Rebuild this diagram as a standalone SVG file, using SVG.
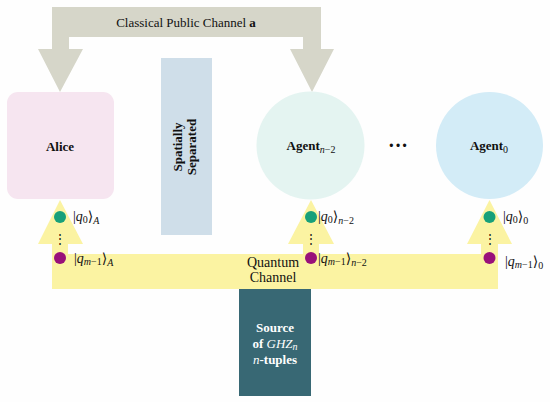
<svg xmlns="http://www.w3.org/2000/svg" width="550" height="402" viewBox="0 0 550 402">
<style>
text{font-family:"Liberation Serif","DejaVu Serif",serif;fill:#111;}
.lbl{font-size:13px;}
.b{font-weight:bold;}
.i{font-style:italic;}
.n{font-weight:normal;}
.w{fill:#fff;}
.ket{font-size:14px;}
.sub{font-size:10px;}
.g{fill:#17a07a;}
.p{fill:#99107a;}
.y{fill:#fbf3a2;}
</style>
<rect width="550" height="402" fill="#fefefe"/>
<g id="connectors">
  <path id="classical" d="M60,92 L38,49 L52,49 L52,7 L321,7 L321,49 L334,49 L312,92 L290,49 L303,49 L303,37 L69,37 L69,49 L83,49 Z" fill="#d6d6c9"/>
  <text class="lbl" x="186" y="27" text-anchor="middle">Classical Public Channel <tspan class="b">a</tspan></text>
  <g id="quantum" class="y">
    <rect x="52" y="254" width="446" height="35"/>
    <path d="M52,254 L52,244 L38,244 L60,200 L83,244 L68,244 L68,254 Z"/>
    <path d="M303,254 L303,244 L288,244 L311,200 L334,244 L319,244 L319,254 Z"/>
    <path d="M481,254 L481,244 L467,244 L489.5,200 L512,244 L498,244 L498,254 Z"/>
  </g>
  <text x="273" y="267" text-anchor="middle" font-size="14">Quantum</text>
  <text x="273" y="282" text-anchor="middle" font-size="14">Channel</text>
</g>
<g id="alice">
  <rect x="7" y="92" width="107" height="107" rx="11" fill="#f6e5f0"/>
  <text class="lbl b" x="60" y="151" text-anchor="middle">Alice</text>
</g>
<g id="separated">
  <rect x="161" y="58" width="51" height="177" fill="#cfdee9"/>
  <text class="lbl b" transform="translate(182,147) rotate(-90)" text-anchor="middle">Spatially</text>
  <text class="lbl b" transform="translate(196,147) rotate(-90)" text-anchor="middle">Separated</text>
</g>
<g id="agent-n2">
  <circle cx="310.5" cy="145.5" r="54" fill="#e4f4f1"/>
  <text class="lbl b" x="311" y="150" text-anchor="middle">Agent<tspan class="sub i n" dy="3">n</tspan><tspan class="sub n">−2</tspan></text>
</g>
<g id="ellipsis">
  <text x="398" y="152" text-anchor="middle" font-size="20" class="b">···</text>
</g>
<g id="agent0">
  <circle cx="489.5" cy="145.5" r="53.5" fill="#d3ecf7"/>
  <text class="lbl b" x="489" y="150" text-anchor="middle">Agent<tspan class="sub n" dy="3">0</tspan></text>
</g>
<g id="source">
  <rect x="239" y="289" width="72" height="107" fill="#386874"/>
  <text class="lbl b w" x="275" y="332" text-anchor="middle">Source</text>
  <text class="lbl b w" x="275" y="348" text-anchor="middle">of <tspan class="i n">GHZ</tspan><tspan class="sub i n" dy="2">n</tspan></text>
  <text class="lbl b w" x="275" y="364" text-anchor="middle"><tspan class="i n">n</tspan>-tuples</text>
</g>
<g id="qubits-alice">
  <circle cx="60" cy="217" r="6" class="g"/>
  <circle cx="60" cy="258" r="6" class="p"/>
  <text x="60" y="243" text-anchor="middle" font-size="12">⋮</text>
  <text class="ket" x="73" y="221">|<tspan class="i">q</tspan><tspan class="sub" dy="2">0</tspan><tspan dy="-2">⟩</tspan><tspan class="sub i" dy="3">A</tspan></text>
  <text class="ket" x="74" y="263">|<tspan class="i">q</tspan><tspan class="sub i" dy="2">m</tspan><tspan class="sub">−1</tspan><tspan dy="-2">⟩</tspan><tspan class="sub i" dy="3">A</tspan></text>
</g>
<g id="qubits-n2">
  <circle cx="311" cy="217" r="6" class="g"/>
  <circle cx="311" cy="258" r="6" class="p"/>
  <text x="311" y="243" text-anchor="middle" font-size="12">⋮</text>
  <text class="ket" x="318" y="221">|<tspan class="i">q</tspan><tspan class="sub" dy="2">0</tspan><tspan dy="-2">⟩</tspan><tspan class="sub i" dy="3">n</tspan><tspan class="sub">−2</tspan></text>
  <text class="ket" x="318" y="263">|<tspan class="i">q</tspan><tspan class="sub i" dy="2">m</tspan><tspan class="sub">−1</tspan><tspan dy="-2">⟩</tspan><tspan class="sub i" dy="3">n</tspan><tspan class="sub">−2</tspan></text>
</g>
<g id="qubits-0">
  <circle cx="489.5" cy="217" r="6" class="g"/>
  <circle cx="489.5" cy="258" r="6" class="p"/>
  <text x="489.5" y="243" text-anchor="middle" font-size="12">⋮</text>
  <text class="ket" x="503" y="221">|<tspan class="i">q</tspan><tspan class="sub" dy="2">0</tspan><tspan dy="-2">⟩</tspan><tspan class="sub" dy="3">0</tspan></text>
  <text class="ket" x="505" y="266">|<tspan class="i">q</tspan><tspan class="sub i" dy="2">m</tspan><tspan class="sub">−1</tspan><tspan dy="-2">⟩</tspan><tspan class="sub" dy="3">0</tspan></text>
</g>
</svg>
